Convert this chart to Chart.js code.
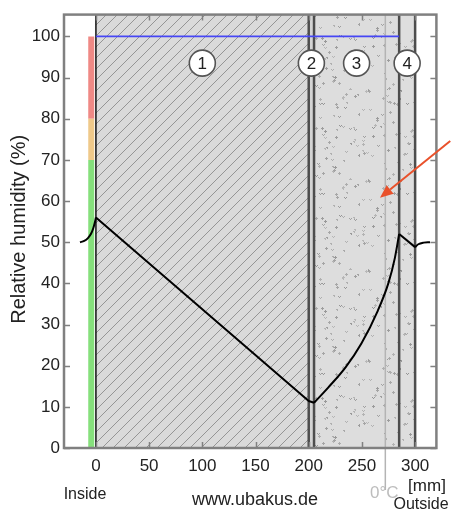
<!DOCTYPE html>
<html>
<head>
<meta charset="utf-8">
<script src="https://cdn.jsdelivr.net/npm/chart.js@4/dist/chart.umd.min.js"></script>
<style>
  html, body { margin: 0; padding: 0; background: #fff; }
  #wrap { width: 451px; height: 512px; }
</style>
</head>
<body>
<div id="wrap"><canvas id="c" width="451" height="512"></canvas></div>
<script>
// Axis ranges and tick labels
const X_MIN = -30, X_MAX = 320;
const Y_MIN = 0, Y_MAX = 105.3;
const xTicks = [0, 50, 100, 150, 200, 250, 300];
const yTicks = [0, 10, 20, 30, 40, 50, 60, 70, 80, 90, 100];

// Construction layers (mm from the inside surface)
const layerBounds = [0, 200, 205, 285, 300];
const layerNumbers = ['1', '2', '3', '4'];
const layerLabelX = [100, 202.5, 245, 292.5];
const layerLabelY = 93.5;
const dewLimitEnd = 285;          // saturation line (100 %) across the layers
const frostPlane = 272;           // position of the 0 °C isotherm

// Comfort scale at the inner surface
const comfortBands = [
  { from: 0, to: 70, color: '#86e07c' },
  { from: 70, to: 80, color: '#efc98a' },
  { from: 80, to: 100, color: '#ef8985' }
];

// Relative humidity profile through the wall, in segments
const rhInsideAir = [
  { x: -15, y: 50 }, { x: -11, y: 50.3 }, { x: -7.5, y: 51 },
  { x: -4.5, y: 52.1 }, { x: -2.5, y: 53.4 }, { x: -1, y: 54.8 }, { x: 0, y: 56 }
];
const rhMasonry = [{ x: 0, y: 56 }, { x: 200, y: 11.4 }, { x: 205, y: 11 }];
const rhInsulation = [
  { x: 205, y: 11 }, { x: 218.7, y: 14.8 }, { x: 234.6, y: 19.6 },
  { x: 249.5, y: 25.4 }, { x: 265, y: 33.4 }, { x: 274.8, y: 40 },
  { x: 281, y: 46.2 }, { x: 285, y: 52 }
];
const rhRender = [{ x: 285, y: 52 }, { x: 300, y: 48.8 }];
const rhOutsideAir = [{ x: 300, y: 48.8 }, { x: 303, y: 49.5 }, { x: 308, y: 49.9 }, { x: 314, y: 50 }];

// Arrow pointing at the condensation zone (data coordinates)
const arrowTail = { x: 333, y: 74.6 };
const arrowTip = { x: 267, y: 60.8 };

// ---- fill textures ----
function lcg(seed) {
  let s = seed >>> 0;
  return () => { s = (Math.imul(s, 1664525) + 1013904223) >>> 0; return s / 4294967296; };
}
function hatchPattern() {
  const s = 11;
  const c = document.createElement('canvas');
  c.width = s; c.height = s;
  const g = c.getContext('2d');
  g.fillStyle = '#dadada'; g.fillRect(0, 0, s, s);
  g.strokeStyle = '#959595'; g.lineWidth = 1;
  g.beginPath();
  g.moveTo(-1, s + 1); g.lineTo(s + 1, -1);
  g.moveTo(-1, 1); g.lineTo(1, -1);
  g.moveTo(s - 1, s + 1); g.lineTo(s + 1, s - 1);
  g.stroke();
  return g.createPattern(c, 'repeat');
}
function stipplePattern(bg, seed) {
  const s = 90;
  const c = document.createElement('canvas');
  c.width = s; c.height = s;
  const g = c.getContext('2d');
  g.fillStyle = bg; g.fillRect(0, 0, s, s);
  const r = lcg(seed);
  for (let i = 0; i < 100; i++) {
    const x = Math.floor(r() * s), y = Math.floor(r() * s);
    const shade = 150 + Math.floor(r() * 35);
    g.fillStyle = `rgb(${shade},${shade},${shade})`;
    const k = r();
    if (k < 0.35) { g.fillRect(x, y, 1, 1); g.fillRect(x + 1, y + 1, 1, 1); g.fillRect(x + 2, y, 1, 1); }
    else if (k < 0.75) { g.fillRect(x, y + 1, 3, 1); g.fillRect(x + 1, y, 1, 3); }
    else { g.fillRect(x, y, 2, 1); g.fillRect(x + 1, y + 1, 1, 1); }
  }
  return g.createPattern(c, 'repeat');
}

const layerFills = [hatchPattern(), '#d4d4d4', stipplePattern('#dddddd', 11), stipplePattern('#dedede', 29)];

// ---- datasets ----
function band(x0, x1, bg) {
  return {
    data: [{ x: x0, y: Y_MAX }, { x: x1, y: Y_MAX }], fill: 'origin',
    backgroundColor: bg, borderWidth: 0, pointRadius: 0, order: 30
  };
}
function vline(x, y0, y1, color, width, order, clip) {
  const d = {
    data: [{ x: x, y: y0 }, { x: x, y: y1 }], borderColor: color, borderWidth: width,
    borderCapStyle: 'butt', pointRadius: 0, fill: false, order: order
  };
  if (clip === false) d.clip = false;
  return d;
}
function curve(pts, smooth) {
  return {
    data: pts, borderColor: '#000', borderWidth: 2, pointRadius: 0, fill: false,
    cubicInterpolationMode: smooth ? 'monotone' : 'default', tension: 0, order: 3,
    borderJoinStyle: 'round'
  };
}

const datasets = [];
for (let i = 0; i < layerNumbers.length; i++) {
  datasets.push(band(layerBounds[i], layerBounds[i + 1], layerFills[i]));
}
datasets.push(vline(frostPlane, Y_MAX, -10.2, '#b4b4b4', 1.5, 20, false));
datasets.push(vline(layerBounds[0], Y_MIN, Y_MAX, '#111', 1.5, 10));
for (let i = 1; i < layerBounds.length; i++) {
  datasets.push(vline(layerBounds[i], Y_MIN, Y_MAX, '#4d4d4d', 2.5, 10));
}
comfortBands.forEach(b => datasets.push(vline(-4.4, b.from, b.to, b.color, 6, 10)));
datasets.push({
  data: [{ x: layerBounds[0], y: 100 }, { x: dewLimitEnd, y: 100 }],
  borderColor: '#4646f5', borderWidth: 1.6, pointRadius: 0, fill: false, order: 5
});
datasets.push(curve(rhInsideAir, true));
datasets.push(curve(rhMasonry, false));
datasets.push(curve(rhInsulation, true));
datasets.push(curve(rhRender, false));
datasets.push(curve(rhOutsideAir, true));
const circleIndex = datasets.length;
datasets.push({
  data: layerLabelX.map(x => ({ x: x, y: layerLabelY })), showLine: false,
  pointRadius: 13, pointBackgroundColor: '#fff', pointBorderColor: '#555',
  pointBorderWidth: 1.6, order: 1
});

const FONT = '"Liberation Sans", Arial, sans-serif';

const decor = {
  id: 'decor',
  afterDatasetsDraw(chart) {
    const ctx = chart.ctx;
    const meta = chart.getDatasetMeta(circleIndex);
    ctx.save();
    ctx.fillStyle = '#222';
    ctx.font = '17px ' + FONT;
    ctx.textAlign = 'center';
    ctx.textBaseline = 'middle';
    meta.data.forEach((pt, i) => ctx.fillText(layerNumbers[i], pt.x, pt.y + 1));
    ctx.restore();
  },
  afterDraw(chart) {
    const ctx = chart.ctx, a = chart.chartArea;
    const xs = chart.scales.x, ys = chart.scales.y;
    ctx.save();
    // frame
    ctx.strokeStyle = '#808080';
    ctx.lineWidth = 2.5;
    ctx.strokeRect(a.left, a.top, a.right - a.left, a.bottom - a.top);
    // inward tick marks on all four sides
    ctx.lineWidth = 1.5;
    ctx.beginPath();
    xTicks.forEach(v => {
      const px = Math.round(xs.getPixelForValue(v)) + 0.5;
      ctx.moveTo(px, a.bottom); ctx.lineTo(px, a.bottom - 6);
      ctx.moveTo(px, a.top); ctx.lineTo(px, a.top + 6);
    });
    yTicks.forEach(v => {
      const py = Math.round(ys.getPixelForValue(v)) + 0.5;
      ctx.moveTo(a.left, py); ctx.lineTo(a.left + 6, py);
      ctx.moveTo(a.right, py); ctx.lineTo(a.right - 6, py);
    });
    ctx.stroke();

    // arrow
    const tx = xs.getPixelForValue(arrowTail.x), ty = ys.getPixelForValue(arrowTail.y);
    const hx = xs.getPixelForValue(arrowTip.x), hy = ys.getPixelForValue(arrowTip.y);
    const ang = Math.atan2(hy - ty, hx - tx);
    const hl = 13, hw = 5.5;
    const bx = hx - hl * Math.cos(ang), by = hy - hl * Math.sin(ang);
    ctx.strokeStyle = '#e9512b';
    ctx.fillStyle = '#e9512b';
    ctx.lineWidth = 2;
    ctx.beginPath(); ctx.moveTo(tx, ty); ctx.lineTo(bx, by); ctx.stroke();
    ctx.beginPath();
    ctx.moveTo(hx, hy);
    ctx.lineTo(bx + hw * Math.sin(ang), by - hw * Math.cos(ang));
    ctx.lineTo(bx - hw * Math.sin(ang), by + hw * Math.cos(ang));
    ctx.closePath(); ctx.fill();

    // texts
    ctx.textAlign = 'center';
    ctx.textBaseline = 'middle';
    ctx.fillStyle = '#222';
    ctx.save();
    ctx.translate(19, (a.top + a.bottom) / 2 - 2);
    ctx.rotate(-Math.PI / 2);
    ctx.font = '20px ' + FONT;
    ctx.fillText('Relative humidity (%)', 0, 0);
    ctx.restore();
    ctx.font = '16px ' + FONT;
    ctx.fillText('Inside', 85, 495);
    ctx.font = '18px ' + FONT;
    ctx.fillText('www.ubakus.de', 255, 500);
    ctx.font = '17px ' + FONT;
    ctx.fillText('[mm]', 427, 486);
    ctx.font = '16px ' + FONT;
    ctx.fillText('Outside', 421, 505);
    ctx.fillStyle = '#bdbdbd';
    ctx.font = '17px ' + FONT;
    ctx.fillText('0°C', xs.getPixelForValue(frostPlane) - 1, 493);
    ctx.restore();
  }
};

new Chart(document.getElementById('c'), {
  type: 'line',
  data: { datasets: datasets },
  plugins: [decor],
  options: {
    responsive: false,
    devicePixelRatio: 1,
    animation: false,
    events: [],
    layout: { padding: { top: 13, right: 11, left: 0, bottom: 0 } },
    plugins: { legend: { display: false }, tooltip: { enabled: false } },
    scales: {
      x: {
        type: 'linear', min: X_MIN, max: X_MAX,
        afterBuildTicks: s => { s.ticks = xTicks.map(v => ({ value: v })); },
        afterFit: s => { s.height = 64; },
        grid: { display: false, drawTicks: false },
        border: { display: false },
        ticks: { font: { family: FONT, size: 17 }, color: '#222', padding: 8, maxRotation: 0 }
      },
      y: {
        type: 'linear', min: Y_MIN, max: Y_MAX,
        afterBuildTicks: s => { s.ticks = yTicks.map(v => ({ value: v })); },
        afterFit: s => { s.width = 64; },
        grid: { display: false, drawTicks: false },
        border: { display: false },
        ticks: { font: { family: FONT, size: 17 }, color: '#222', padding: 4 }
      }
    }
  }
});
</script>
</body>
</html>
